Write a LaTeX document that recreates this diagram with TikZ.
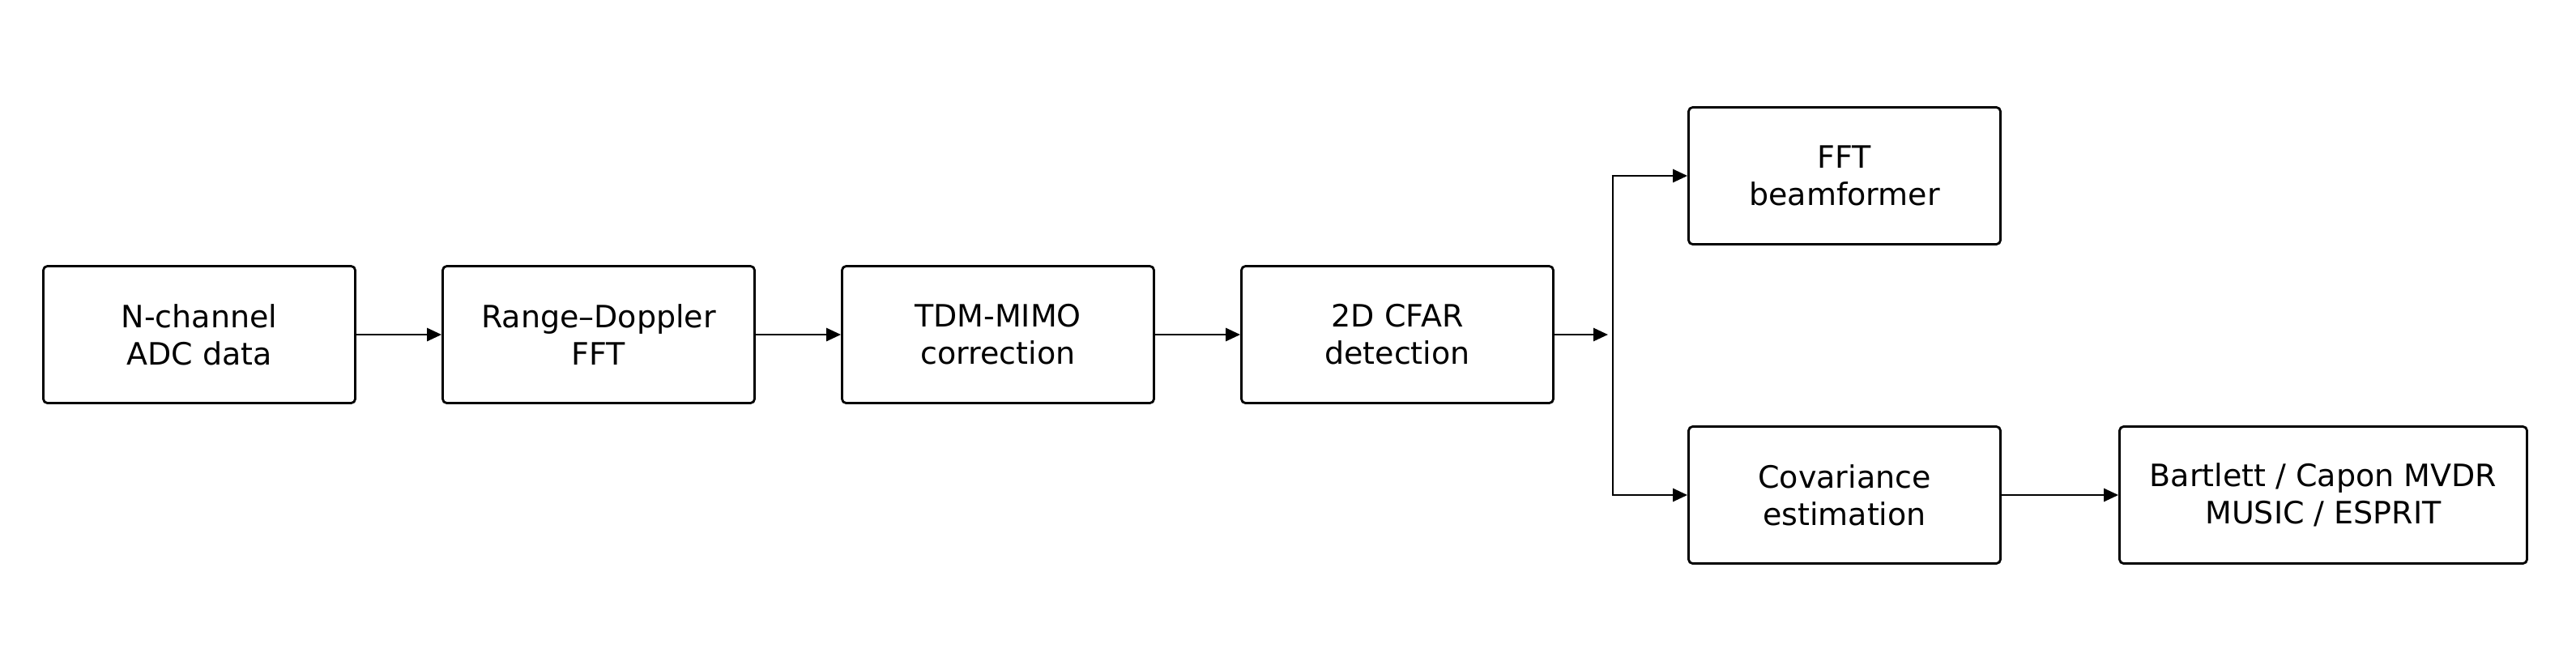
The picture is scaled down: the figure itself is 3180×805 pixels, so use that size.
\documentclass[tikz,border=0pt]{standalone}
\usepackage{fontspec}
\setmainfont{DejaVu Sans}
\usetikzlibrary{arrows.meta}
\begin{document}
\begin{tikzpicture}[x=0.5pt,y=-0.5pt,
  box/.style={draw,line width=1.4pt,rounded corners=2.5pt,minimum width=192.5pt,minimum height=84.5pt,align=center,font=\fontsize{19}{23}\selectfont,inner sep=0pt},
  arr/.style={line width=1.4pt,-{Triangle[length=9pt,width=8pt]}},
  ln/.style={line width=1.4pt}]
\useasboundingbox (0,0) rectangle (3180,805);
\node[box] (a) at (246,413) {N-channel\\ADC data};
\node[box] (b) at (739,413) {Range–Doppler\\FFT};
\node[box] (c) at (1232,413) {TDM-MIMO\\correction};
\node[box] (d) at (1725,413) {2D CFAR\\detection};
\node[box] (e) at (2277,217) {FFT\\beamformer};
\node[box] (f) at (2277,611) {Covariance\\estimation};
\node[box,minimum width=251.5pt] (g) at (2868,611) {Bartlett / Capon MVDR\\MUSIC / ESPRIT};
\coordinate (j) at (1985,413);
\coordinate (jt) at (1991,217);
\coordinate (jb) at (1991,611);
\draw[arr] (a) -- (b);
\draw[arr] (b) -- (c);
\draw[arr] (c) -- (d);
\draw[arr] (d) -- (j);
\draw[ln] (jt) -- (jb);
\draw[arr] ([xshift=-0.7pt]jt) -- (e);
\draw[arr] ([xshift=-0.7pt]jb) -- (f);
\draw[arr] (f) -- (g);
\end{tikzpicture}
\end{document}
